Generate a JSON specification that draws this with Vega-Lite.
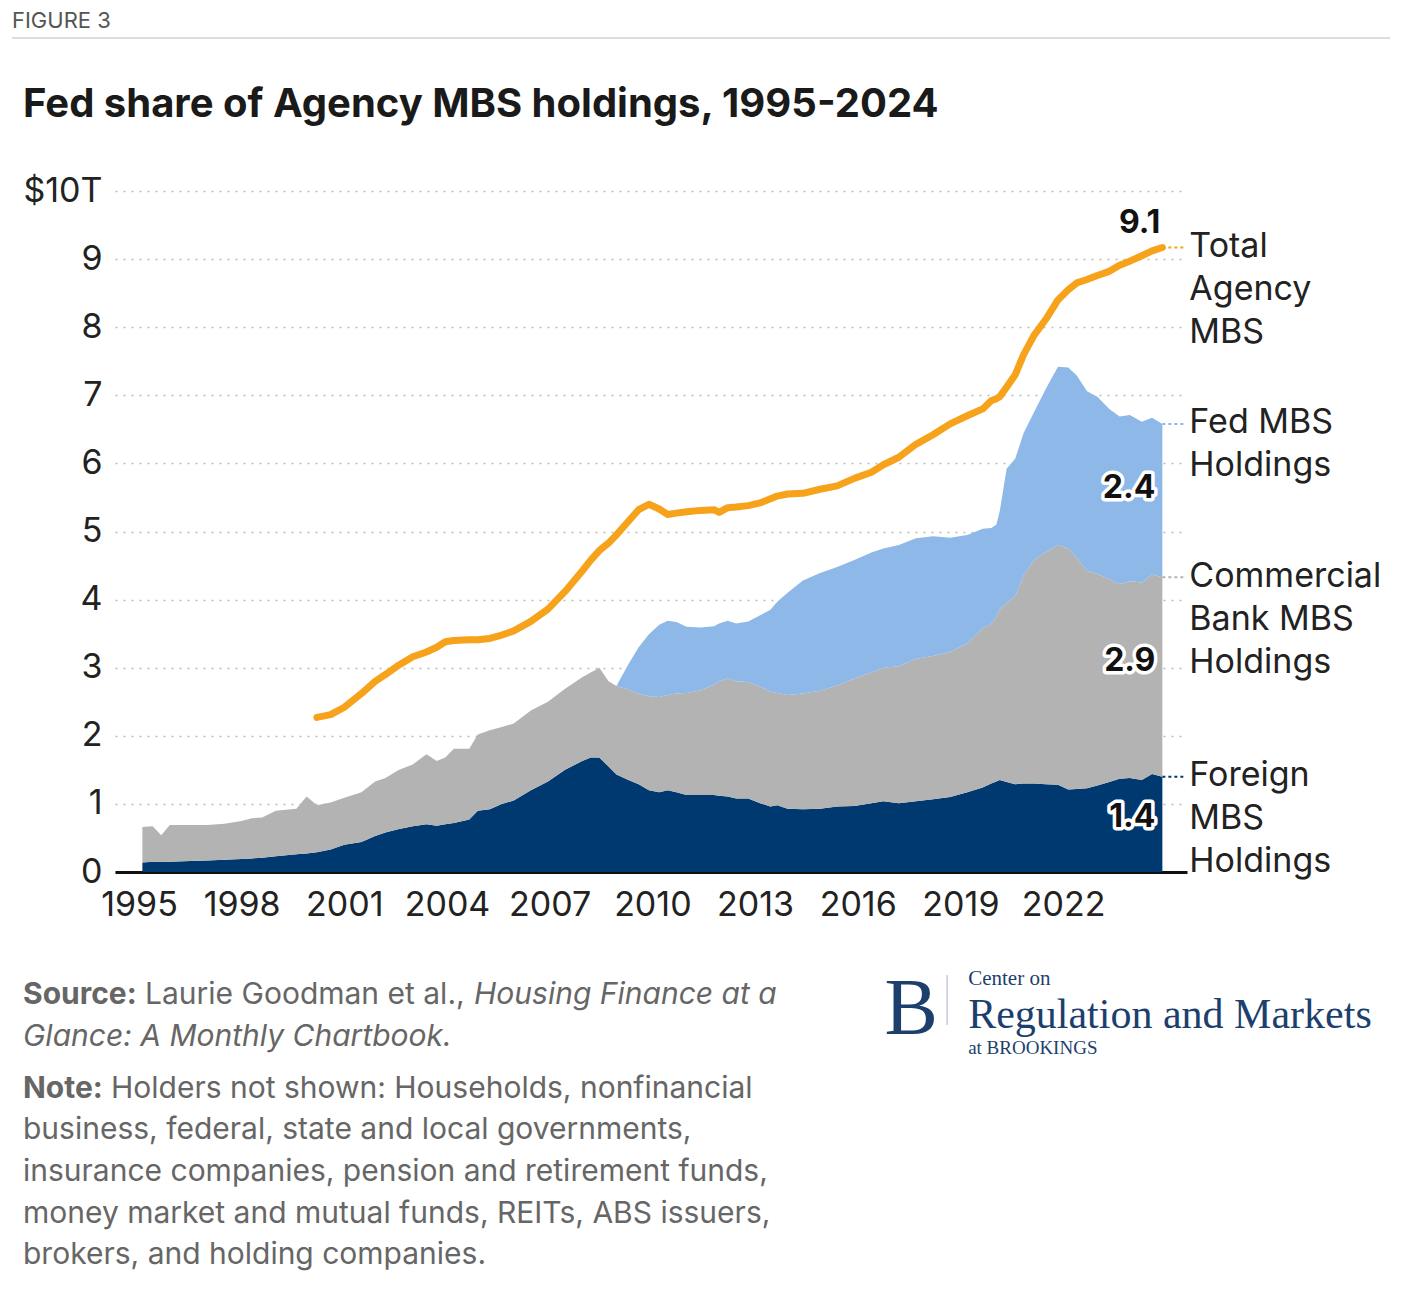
{
  "$schema": "https://vega.github.io/schema/vega-lite/v6.json",
  "width": 1072,
  "height": 681,
  "autosize": "none",
  "padding": {"left": 115, "top": 191, "right": 214, "bottom": 423},
  "background": "white",
  "datasets": {
    "mbs": [
      {"year": 1995.1, "foreign": 0.14, "bank": 0.52},
      {"year": 1995.4, "foreign": 0.15, "bank": 0.52},
      {"year": 1995.65, "foreign": 0.15, "bank": 0.39},
      {"year": 1995.9, "foreign": 0.15, "bank": 0.54},
      {"year": 1996.5, "foreign": 0.16, "bank": 0.53},
      {"year": 1997.0, "foreign": 0.17, "bank": 0.52},
      {"year": 1997.5, "foreign": 0.18, "bank": 0.53},
      {"year": 1998.0, "foreign": 0.19, "bank": 0.56},
      {"year": 1998.3, "foreign": 0.20, "bank": 0.59},
      {"year": 1998.6, "foreign": 0.21, "bank": 0.59},
      {"year": 1999.0, "foreign": 0.23, "bank": 0.67},
      {"year": 1999.6, "foreign": 0.26, "bank": 0.67},
      {"year": 1999.9, "foreign": 0.27, "bank": 0.84},
      {"year": 2000.2, "foreign": 0.29, "bank": 0.69, "total": 2.27},
      {"year": 2000.6, "foreign": 0.33, "bank": 0.69, "total": 2.31},
      {"year": 2001.0, "foreign": 0.40, "bank": 0.69, "total": 2.42},
      {"year": 2001.5, "foreign": 0.44, "bank": 0.73, "total": 2.62},
      {"year": 2001.9, "foreign": 0.53, "bank": 0.80, "total": 2.80},
      {"year": 2002.2, "foreign": 0.58, "bank": 0.80, "total": 2.90},
      {"year": 2002.6, "foreign": 0.63, "bank": 0.87, "total": 3.04},
      {"year": 2003.0, "foreign": 0.67, "bank": 0.91, "total": 3.16},
      {"year": 2003.4, "foreign": 0.70, "bank": 1.03, "total": 3.23},
      {"year": 2003.7, "foreign": 0.68, "bank": 0.95, "total": 3.30},
      {"year": 2003.95, "foreign": 0.70, "bank": 0.98, "total": 3.38},
      {"year": 2004.2, "foreign": 0.72, "bank": 1.09, "total": 3.40},
      {"year": 2004.65, "foreign": 0.77, "bank": 1.04, "total": 3.41},
      {"year": 2004.9, "foreign": 0.90, "bank": 1.12, "total": 3.41},
      {"year": 2005.25, "foreign": 0.92, "bank": 1.16, "total": 3.43},
      {"year": 2005.6, "foreign": 1.00, "bank": 1.13, "total": 3.48},
      {"year": 2005.95, "foreign": 1.05, "bank": 1.13, "total": 3.54},
      {"year": 2006.45, "foreign": 1.20, "bank": 1.17, "total": 3.68},
      {"year": 2006.95, "foreign": 1.33, "bank": 1.17, "total": 3.86},
      {"year": 2007.45, "foreign": 1.50, "bank": 1.19, "total": 4.12},
      {"year": 2007.95, "foreign": 1.63, "bank": 1.23, "total": 4.42},
      {"year": 2008.2, "foreign": 1.68, "bank": 1.25, "total": 4.58},
      {"year": 2008.45, "foreign": 1.68, "bank": 1.32, "total": 4.72},
      {"year": 2008.72, "foreign": 1.55, "bank": 1.25, "total": 4.83},
      {"year": 2008.95, "foreign": 1.43, "bank": 1.30, "fed": 0.0, "total": 4.95},
      {"year": 2009.3, "foreign": 1.35, "bank": 1.33, "fed": 0.37, "total": 5.15},
      {"year": 2009.6, "foreign": 1.29, "bank": 1.33, "fed": 0.68, "total": 5.32},
      {"year": 2009.9, "foreign": 1.20, "bank": 1.38, "fed": 0.91, "total": 5.40},
      {"year": 2010.2, "foreign": 1.17, "bank": 1.40, "fed": 1.06, "total": 5.33},
      {"year": 2010.45, "foreign": 1.20, "bank": 1.40, "fed": 1.09, "total": 5.25},
      {"year": 2010.7, "foreign": 1.17, "bank": 1.45, "fed": 1.05, "total": 5.27},
      {"year": 2011.0, "foreign": 1.13, "bank": 1.50, "fed": 0.97, "total": 5.29},
      {"year": 2011.4, "foreign": 1.13, "bank": 1.54, "fed": 0.92, "total": 5.31},
      {"year": 2011.8, "foreign": 1.13, "bank": 1.62, "fed": 0.86, "total": 5.32},
      {"year": 2011.95, "foreign": 1.12, "bank": 1.68, "fed": 0.85, "total": 5.28},
      {"year": 2012.2, "foreign": 1.11, "bank": 1.73, "fed": 0.85, "total": 5.35},
      {"year": 2012.45, "foreign": 1.08, "bank": 1.72, "fed": 0.85, "total": 5.36},
      {"year": 2012.8, "foreign": 1.08, "bank": 1.71, "fed": 0.89, "total": 5.38},
      {"year": 2013.15, "foreign": 1.01, "bank": 1.71, "fed": 1.05, "total": 5.42},
      {"year": 2013.45, "foreign": 0.96, "bank": 1.69, "fed": 1.20, "total": 5.48},
      {"year": 2013.65, "foreign": 0.98, "bank": 1.65, "fed": 1.34, "total": 5.52},
      {"year": 2013.95, "foreign": 0.93, "bank": 1.67, "fed": 1.50, "total": 5.55},
      {"year": 2014.4, "foreign": 0.92, "bank": 1.70, "fed": 1.66, "total": 5.56},
      {"year": 2014.9, "foreign": 0.93, "bank": 1.73, "fed": 1.73, "total": 5.62},
      {"year": 2015.4, "foreign": 0.96, "bank": 1.78, "fed": 1.74, "total": 5.67},
      {"year": 2015.9, "foreign": 0.97, "bank": 1.87, "fed": 1.74, "total": 5.78},
      {"year": 2016.4, "foreign": 1.01, "bank": 1.92, "fed": 1.76, "total": 5.87},
      {"year": 2016.75, "foreign": 1.04, "bank": 1.96, "fed": 1.75, "total": 5.98},
      {"year": 2017.2, "foreign": 1.01, "bank": 2.01, "fed": 1.78, "total": 6.09},
      {"year": 2017.7, "foreign": 1.04, "bank": 2.09, "fed": 1.77, "total": 6.28},
      {"year": 2018.2, "foreign": 1.07, "bank": 2.10, "fed": 1.76, "total": 6.42},
      {"year": 2018.7, "foreign": 1.10, "bank": 2.13, "fed": 1.68, "total": 6.58},
      {"year": 2019.2, "foreign": 1.17, "bank": 2.19, "fed": 1.59, "total": 6.70},
      {"year": 2019.65, "foreign": 1.24, "bank": 2.34, "fed": 1.46, "total": 6.80},
      {"year": 2019.9, "foreign": 1.30, "bank": 2.34, "fed": 1.41, "total": 6.92},
      {"year": 2020.05, "foreign": 1.33, "bank": 2.42, "fed": 1.35, "total": 6.95},
      {"year": 2020.15, "foreign": 1.35, "bank": 2.51, "fed": 1.44, "total": 6.98},
      {"year": 2020.35, "foreign": 1.32, "bank": 2.63, "fed": 1.97, "total": 7.12},
      {"year": 2020.6, "foreign": 1.29, "bank": 2.76, "fed": 2.02, "total": 7.30},
      {"year": 2020.85, "foreign": 1.30, "bank": 3.06, "fed": 2.09, "total": 7.60},
      {"year": 2021.15, "foreign": 1.30, "bank": 3.28, "fed": 2.17, "total": 7.88},
      {"year": 2021.5, "foreign": 1.29, "bank": 3.41, "fed": 2.40, "total": 8.12},
      {"year": 2021.85, "foreign": 1.28, "bank": 3.52, "fed": 2.62, "total": 8.40},
      {"year": 2022.15, "foreign": 1.21, "bank": 3.54, "fed": 2.66, "total": 8.55},
      {"year": 2022.4, "foreign": 1.22, "bank": 3.40, "fed": 2.67, "total": 8.65},
      {"year": 2022.7, "foreign": 1.23, "bank": 3.19, "fed": 2.64, "total": 8.70},
      {"year": 2023.0, "foreign": 1.27, "bank": 3.11, "fed": 2.60, "total": 8.76},
      {"year": 2023.35, "foreign": 1.32, "bank": 2.98, "fed": 2.50, "total": 8.82},
      {"year": 2023.65, "foreign": 1.37, "bank": 2.86, "fed": 2.46, "total": 8.91},
      {"year": 2023.95, "foreign": 1.38, "bank": 2.89, "fed": 2.44, "total": 8.97},
      {"year": 2024.3, "foreign": 1.35, "bank": 2.90, "fed": 2.36, "total": 9.05},
      {"year": 2024.6, "foreign": 1.44, "bank": 2.93, "fed": 2.30, "total": 9.12},
      {"year": 2024.9, "foreign": 1.40, "bank": 2.93, "fed": 2.25, "total": 9.17}
    ],
    "series": [
      {"key": "foreign", "ord": 0, "name": "Foreign\nMBS\nHoldings", "label": "1.4"},
      {"key": "bank", "ord": 1, "name": "Commercial\nBank MBS\nHoldings", "label": "2.9"},
      {"key": "fed", "ord": 2, "name": "Fed MBS\nHoldings", "label": "2.4"},
      {"key": "total", "ord": 3, "name": "Total\nAgency\nMBS", "label": "9.1"}
    ]
  },
  "data": {"name": "mbs"},
  "layer": [
    {
      "transform": [
        {"fold": ["foreign", "bank", "fed"], "as": ["key", "value"]},
        {"filter": "isValid(datum.value)"},
        {"lookup": "key", "from": {"data": {"name": "series"}, "key": "key", "fields": ["ord"]}}
      ],
      "mark": {"type": "area", "interpolate": "linear"},
      "encoding": {
        "x": {
          "field": "year",
          "type": "quantitative",
          "scale": {"domain": [1994.3, 2025.62], "nice": false, "zero": false},
          "axis": {
            "values": [1995, 1998, 2001, 2004, 2007, 2010, 2013, 2016, 2019, 2022],
            "format": "d",
            "title": null,
            "grid": false,
            "ticks": false,
            "labelFont": "Inter",
            "labelFontSize": 34,
            "labelColor": "#222",
            "labelPadding": 16,
            "labelFlush": false,
            "labelOverlap": false,
            "domainColor": "#111",
            "domainWidth": 3
          }
        },
        "y": {
          "field": "value",
          "type": "quantitative",
          "stack": "zero",
          "scale": {"domain": [0, 10], "nice": false},
          "axis": {
            "values": [0, 1, 2, 3, 4, 5, 6, 7, 8, 9, 10],
            "format": "d",
            "title": null,
            "labelExpr": "datum.value === 10 ? '$10T' : datum.label",
            "domain": false,
            "ticks": false,
            "grid": true,
            "gridColor": "#bdbdbd",
            "gridDash": [2, 6],
            "gridWidth": 1.6,
            "labelFont": "Inter",
            "labelFontSize": 34,
            "labelColor": "#222",
            "labelPadding": 13
          }
        },
        "color": {
          "field": "key",
          "type": "nominal",
          "scale": {
            "domain": ["foreign", "bank", "fed", "total"],
            "range": ["#00396F", "#B2B3B2", "#8DB8E8", "#F7A21B"]
          },
          "legend": null
        },
        "order": {"field": "ord", "type": "quantitative"}
      }
    },
    {
      "transform": [{"filter": "isValid(datum.total)"}],
      "mark": {"type": "line", "color": "#F7A21B", "strokeWidth": 7, "strokeCap": "round", "strokeJoin": "round"},
      "encoding": {
        "x": {"field": "year", "type": "quantitative"},
        "y": {"field": "total", "type": "quantitative"}
      }
    },
    {
      "transform": [
        {"joinaggregate": [{"op": "max", "field": "year", "as": "last"}]},
        {"filter": "datum.year === datum.last"},
        {"fold": ["foreign", "bank", "fed"], "as": ["key", "value"]},
        {"lookup": "key", "from": {"data": {"name": "series"}, "key": "key", "fields": ["ord", "name", "label"]}},
        {"stack": "value", "groupby": ["year"], "sort": [{"field": "ord", "order": "ascending"}], "as": ["v0", "v1"]},
        {"calculate": "datum.v0 + 0.58 * (datum.v1 - datum.v0)", "as": "mid"}
      ],
      "layer": [
        {
          "mark": {"type": "rule", "strokeWidth": 2, "strokeDash": [3, 3]},
          "encoding": {
            "x": {"field": "year", "type": "quantitative"},
            "x2": {"datum": 2025.55},
            "y": {"field": "v1", "type": "quantitative"},
            "color": {"field": "key", "type": "nominal"}
          }
        },
        {
          "mark": {"type": "text", "align": "left", "baseline": "line-top", "dx": 27, "dy": -21.5, "font": "Inter", "fontSize": 34, "lineBreak": "\n", "lineHeight": 43, "fill": "#222"},
          "encoding": {
            "x": {"field": "year", "type": "quantitative"},
            "y": {"field": "v1", "type": "quantitative"},
            "text": {"field": "name"}
          }
        },
        {
          "mark": {"type": "text", "align": "right", "baseline": "middle", "dx": -7, "font": "Inter", "fontSize": 32, "fontWeight": 700, "fill": "white", "stroke": "white", "strokeWidth": 7, "strokeJoin": "round"},
          "encoding": {
            "x": {"field": "year", "type": "quantitative"},
            "y": {"field": "mid", "type": "quantitative"},
            "text": {"field": "label"}
          }
        },
        {
          "mark": {"type": "text", "align": "right", "baseline": "middle", "dx": -7, "font": "Inter", "fontSize": 32, "fontWeight": 700, "fill": "#111"},
          "encoding": {
            "x": {"field": "year", "type": "quantitative"},
            "y": {"field": "mid", "type": "quantitative"},
            "text": {"field": "label"}
          }
        }
      ]
    },
    {
      "transform": [
        {"joinaggregate": [{"op": "max", "field": "year", "as": "last"}]},
        {"filter": "datum.year === datum.last"},
        {"fold": ["total"], "as": ["key", "value"]},
        {"lookup": "key", "from": {"data": {"name": "series"}, "key": "key", "fields": ["name", "label"]}}
      ],
      "layer": [
        {
          "mark": {"type": "rule", "strokeWidth": 2, "strokeDash": [3, 3]},
          "encoding": {
            "x": {"field": "year", "type": "quantitative"},
            "x2": {"datum": 2025.55},
            "y": {"field": "value", "type": "quantitative"},
            "color": {"field": "key", "type": "nominal"}
          }
        },
        {
          "mark": {"type": "text", "align": "left", "baseline": "line-top", "dx": 27, "dy": -21.5, "font": "Inter", "fontSize": 34, "lineBreak": "\n", "lineHeight": 43, "fill": "#222"},
          "encoding": {
            "x": {"field": "year", "type": "quantitative"},
            "y": {"field": "value", "type": "quantitative"},
            "text": {"field": "name"}
          }
        },
        {
          "mark": {"type": "text", "align": "right", "baseline": "middle", "dx": -2, "dy": -25, "font": "Inter", "fontSize": 32, "fontWeight": 700, "fill": "#111"},
          "encoding": {
            "x": {"field": "year", "type": "quantitative"},
            "y": {"field": "value", "type": "quantitative"},
            "text": {"field": "label"}
          }
        }
      ]
    },
    {
      "data": {"values": [{}]},
      "mark": {"type": "text", "text": "FIGURE 3", "align": "left", "baseline": "middle", "font": "Inter", "fontSize": 22, "fill": "#555"},
      "encoding": {"x": {"datum": 1991.29, "type": "quantitative"}, "y": {"datum": 12.496, "type": "quantitative"}}
    },
    {
      "data": {"values": [{}]},
      "mark": {"type": "rule", "stroke": "#dddddd", "strokeWidth": 2},
      "encoding": {
        "x": {"datum": 1991.29, "type": "quantitative"},
        "x2": {"datum": 2031.557},
        "y": {"datum": 12.247, "type": "quantitative"}
      }
    },
    {
      "data": {"values": [{}]},
      "mark": {"type": "text", "text": "Fed share of Agency MBS holdings, 1995-2024", "align": "left", "baseline": "alphabetic", "font": "Inter", "fontSize": 40, "fontWeight": 700, "fill": "#1a1a1a"},
      "encoding": {"x": {"datum": 1991.612, "type": "quantitative"}, "y": {"datum": 11.087, "type": "quantitative"}}
    },
    {
      "data": {"values": [{}]},
      "mark": {"type": "text", "text": "Source:", "align": "left", "baseline": "middle", "font": "Inter", "fontSize": 30, "fontWeight": 700, "fill": "#666"},
      "encoding": {"x": {"datum": 1991.612, "type": "quantitative"}, "y": {"datum": -1.806, "type": "quantitative"}}
    },
    {
      "data": {"values": [{}]},
      "mark": {"type": "text", "text": "Laurie Goodman et al.,", "align": "left", "baseline": "middle", "font": "Inter", "fontSize": 30, "fill": "#666"},
      "encoding": {"x": {"datum": 1995.177, "type": "quantitative"}, "y": {"datum": -1.806, "type": "quantitative"}}
    },
    {
      "data": {"values": [{}]},
      "mark": {"type": "text", "text": "Housing Finance at a", "align": "left", "baseline": "middle", "font": "Inter", "fontSize": 30, "fontStyle": "italic", "fill": "#666"},
      "encoding": {"x": {"datum": 2004.79, "type": "quantitative"}, "y": {"datum": -1.806, "type": "quantitative"}}
    },
    {
      "data": {"values": [{}]},
      "mark": {"type": "text", "text": "Glance: A Monthly Chartbook.", "align": "left", "baseline": "middle", "font": "Inter", "fontSize": 30, "fontStyle": "italic", "fill": "#666"},
      "encoding": {"x": {"datum": 1991.612, "type": "quantitative"}, "y": {"datum": -2.423, "type": "quantitative"}}
    },
    {
      "data": {"values": [{}]},
      "mark": {"type": "text", "text": "Note:", "align": "left", "baseline": "middle", "font": "Inter", "fontSize": 30, "fontWeight": 700, "fill": "#666"},
      "encoding": {"x": {"datum": 1991.612, "type": "quantitative"}, "y": {"datum": -3.186, "type": "quantitative"}}
    },
    {
      "data": {"values": [{}]},
      "mark": {"type": "text", "text": "Holders not shown: Households, nonfinancial", "align": "left", "baseline": "middle", "font": "Inter", "fontSize": 30, "fill": "#666"},
      "encoding": {"x": {"datum": 1994.183, "type": "quantitative"}, "y": {"datum": -3.186, "type": "quantitative"}}
    },
    {
      "data": {"values": [{}]},
      "mark": {
        "type": "text",
        "text": "business, federal, state and local governments,\ninsurance companies, pension and retirement funds,\nmoney market and mutual funds, REITs, ABS issuers,\nbrokers, and holding companies.",
        "lineBreak": "\n",
        "lineHeight": 41.7,
        "align": "left",
        "baseline": "line-top",
        "font": "Inter",
        "fontSize": 30,
        "fill": "#666"
      },
      "encoding": {"x": {"datum": 1991.612, "type": "quantitative"}, "y": {"datum": -3.482, "type": "quantitative"}}
    },
    {
      "data": {"values": [{}]},
      "mark": {"type": "text", "text": "B", "align": "left", "baseline": "alphabetic", "font": "Liberation Serif", "fontSize": 80, "fill": "#1D3F6E"},
      "encoding": {"x": {"datum": 2016.78, "type": "quantitative"}, "y": {"datum": -2.379, "type": "quantitative"}}
    },
    {
      "data": {"values": [{}]},
      "mark": {"type": "rule", "stroke": "#c5cbd6", "strokeWidth": 1.5},
      "encoding": {
        "x": {"datum": 2018.612, "type": "quantitative"},
        "y": {"datum": -1.512, "type": "quantitative"},
        "y2": {"datum": -2.247}
      }
    },
    {
      "data": {"values": [{}]},
      "mark": {"type": "text", "text": "Center on", "align": "left", "baseline": "alphabetic", "font": "Liberation Serif", "fontSize": 21, "fill": "#1D3F6E"},
      "encoding": {"x": {"datum": 2019.226, "type": "quantitative"}, "y": {"datum": -1.66, "type": "quantitative"}}
    },
    {
      "data": {"values": [{}]},
      "mark": {"type": "text", "text": "Regulation and Markets", "align": "left", "baseline": "alphabetic", "font": "Liberation Serif", "fontSize": 42, "fill": "#1D3F6E"},
      "encoding": {"x": {"datum": 2019.226, "type": "quantitative"}, "y": {"datum": -2.29, "type": "quantitative"}}
    },
    {
      "data": {"values": [{}]},
      "mark": {"type": "text", "text": "at BROOKINGS", "align": "left", "baseline": "alphabetic", "font": "Liberation Serif", "fontSize": 19, "fill": "#1D3F6E"},
      "encoding": {"x": {"datum": 2019.226, "type": "quantitative"}, "y": {"datum": -2.673, "type": "quantitative"}}
    }
  ],
  "config": {
    "view": {"stroke": null},
    "font": "Inter"
  }
}
